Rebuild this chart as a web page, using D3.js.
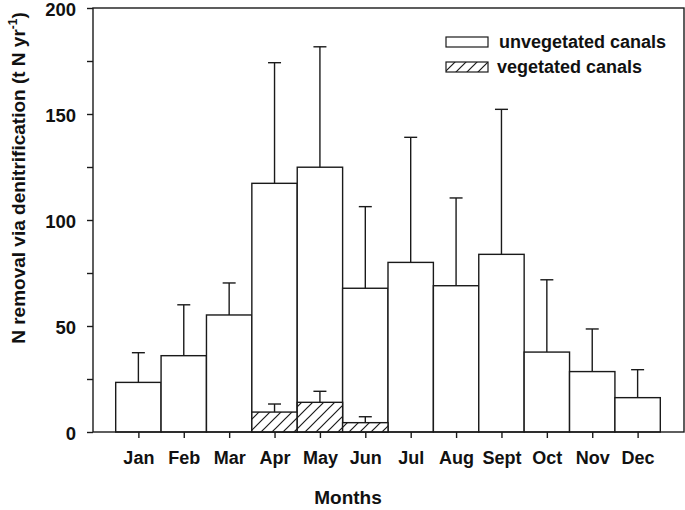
<!DOCTYPE html>
<html>
<head>
<meta charset="utf-8">
<script src="https://cdn.jsdelivr.net/npm/d3@7"></script>
<style>
  html, body { margin: 0; padding: 0; background: #fff; }
  svg { display: block; font-family: Arial, "Liberation Sans", sans-serif; }
</style>
</head>
<body>
<svg id="chart" width="685" height="510"></svg>
<script>
const months = ["Jan","Feb","Mar","Apr","May","Jun","Jul","Aug","Sept","Oct","Nov","Dec"];
const unvegetated = [23.4, 36, 55.2, 117.3, 124.9, 67.8, 80, 69, 83.8, 37.7, 28.5, 16.2];
const unvegetatedErrTop = [37.4, 60, 70.3, 174.2, 181.7, 106.3, 139, 110.4, 152.2, 71.8, 48.6, 29.4];
const vegetated = [null, null, null, 9.4, 14, 4.4, null, null, null, null, null, null];
const vegetatedErrTop = [null, null, null, 13.2, 19.2, 7.2, null, null, null, null, null, null];
const yTicks = [0, 50, 100, 150, 200];
const yMinorTicks = [25, 75, 125, 175];
const seriesNames = ["unvegetated canals", "vegetated canals"];

(function () {
const svg = d3.select("#chart");
const mLeft = 93, mRight = 683, mTop = 8, mBottom = 432;
const stroke = "#1a1a1a";
const FONT = "Arial, 'Liberation Sans', sans-serif";

const x = d3.scaleLinear().domain([0, 13]).range([mLeft, mRight]);
const y = d3.scaleLinear().domain([0, 200]).range([mBottom, mTop]);

// hatch pattern
const defs = svg.append("defs");
const pat = defs.append("pattern").attr("id", "hatch")
  .attr("patternUnits", "userSpaceOnUse").attr("width", 11).attr("height", 11);
pat.append("rect").attr("width", 11).attr("height", 11).attr("fill", "#fff");
pat.append("path").attr("d", "M-1,12 L12,-1 M-2,2 L2,-2 M9,13 L13,9")
  .attr("stroke", stroke).attr("stroke-width", 1.2);

const pos = i => i + 1;

// unvegetated bars
svg.append("g").selectAll("rect").data(unvegetated).join("rect")
  .attr("x", (d, i) => x(pos(i) - 0.5))
  .attr("width", x(1) - x(0))
  .attr("y", d => y(d))
  .attr("height", d => y(0) - y(d))
  .attr("fill", "#fff").attr("stroke", stroke).attr("stroke-width", 1.4);

// unvegetated error bars
const eb = svg.append("g").attr("stroke", stroke).attr("stroke-width", 1.4);
unvegetated.forEach((v, i) => {
  const cx = x(pos(i));
  eb.append("line").attr("x1", cx).attr("x2", cx).attr("y1", y(v)).attr("y2", y(unvegetatedErrTop[i]));
  eb.append("line").attr("x1", cx - 6.5).attr("x2", cx + 6.5).attr("y1", y(unvegetatedErrTop[i])).attr("y2", y(unvegetatedErrTop[i]));
});

// vegetated bars
const vegIdx = vegetated.map((v, i) => i).filter(i => vegetated[i] != null);
svg.append("g").selectAll("rect").data(vegIdx).join("rect")
  .attr("x", i => x(pos(i) - 0.5))
  .attr("width", x(1) - x(0))
  .attr("y", i => y(vegetated[i]))
  .attr("height", i => y(0) - y(vegetated[i]))
  .attr("fill", "url(#hatch)").attr("stroke", stroke).attr("stroke-width", 1.4);
const eb2 = svg.append("g").attr("stroke", stroke).attr("stroke-width", 1.4);
vegIdx.forEach(i => {
  const cx = x(pos(i));
  eb2.append("line").attr("x1", cx).attr("x2", cx).attr("y1", y(vegetated[i])).attr("y2", y(vegetatedErrTop[i]));
  eb2.append("line").attr("x1", cx - 6.5).attr("x2", cx + 6.5).attr("y1", y(vegetatedErrTop[i])).attr("y2", y(vegetatedErrTop[i]));
});

// frame
svg.append("rect").attr("x", mLeft).attr("y", mTop).attr("width", mRight + 1 - mLeft).attr("height", mBottom - mTop)
  .attr("fill", "none").attr("stroke", stroke).attr("stroke-width", 1.4);

// y axis
const yAxis = d3.axisLeft(y).tickValues(yTicks.concat(yMinorTicks).sort((a, b) => a - b))
  .tickSize(6).tickFormat(d => yTicks.includes(d) ? d : "");
const gy = svg.append("g").attr("transform", `translate(${mLeft},0)`).call(yAxis);
gy.select(".domain").remove();
gy.selectAll("line").attr("stroke", stroke).attr("stroke-width", 1.4);
gy.selectAll("text").attr("x", -17).attr("dy", "0.38em").attr("font-size", 18.5).attr("font-weight", "bold")
  .attr("fill", "#111").attr("font-family", FONT);

// x axis
const xAxis = d3.axisBottom(x).tickValues(months.map((m, i) => pos(i)))
  .tickSize(6).tickFormat((d) => months[d - 1]);
const gx = svg.append("g").attr("transform", `translate(0,${mBottom})`).call(xAxis);
gx.select(".domain").remove();
gx.selectAll("line").attr("stroke", stroke).attr("stroke-width", 1.4);
gx.selectAll("text").attr("y", 19).attr("font-size", 18).attr("font-weight", "bold")
  .attr("fill", "#111").attr("font-family", FONT);

// axis titles
svg.append("text").attr("x", 348).attr("y", 504).attr("text-anchor", "middle")
  .attr("font-size", 19).attr("font-weight", "bold").attr("fill", "#111").text("Months");

const yt = svg.append("text").attr("transform", "translate(25,178) rotate(-90)")
  .attr("text-anchor", "middle").attr("font-size", 19).attr("font-weight", "bold").attr("fill", "#111");
yt.append("tspan").text("N removal via denitrification (t N yr");
yt.append("tspan").attr("dy", -8).attr("font-size", 12).text("-1");
yt.append("tspan").attr("dy", 8).text(")");

// legend
const lg = svg.append("g");
const legendFills = ["#fff", "url(#hatch)"];
seriesNames.forEach((name, i) => {
  const ly = 37 + i * 25;
  lg.append("rect").attr("x", 446).attr("y", ly).attr("width", 42).attr("height", 10)
    .attr("fill", legendFills[i]).attr("stroke", stroke).attr("stroke-width", 1.2);
  lg.append("text").attr("x", i === 0 ? 499 : 497).attr("y", ly + 11).attr("font-size", 18)
    .attr("font-weight", "bold").attr("fill", "#111").text(name);
});
})();
</script>
</body>
</html>
